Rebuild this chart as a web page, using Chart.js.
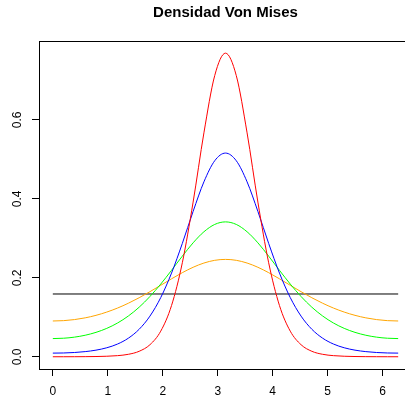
<!DOCTYPE html>
<html>
<head>
<meta charset="utf-8">
<script src="https://cdn.jsdelivr.net/npm/chart.js"></script>
<style>
  html, body { margin: 0; padding: 0; background: #fff; overflow: hidden; }
  canvas { display: block; }
</style>
</head>
<body>
<canvas id="myChart" width="420" height="401"></canvas>
<script>
// angles from 0 to 2*pi, step pi/16
const xs = [0, 0.19635, 0.39270, 0.58905, 0.78540, 0.98175, 1.17810, 1.37445, 1.57080,
  1.76715, 1.96350, 2.15985, 2.35619, 2.55254, 2.74889, 2.94524, 3.14159, 3.33794,
  3.53429, 3.73064, 3.92699, 4.12334, 4.31969, 4.51604, 4.71239, 4.90874, 5.10509,
  5.30144, 5.49779, 5.69414, 5.89049, 6.08684, 6.28319];

const kappa4 = [0.00026, 0.00028, 0.00035, 0.00051, 0.00083, 0.00153, 0.00305, 0.00645, 0.01408,
  0.03073, 0.06508, 0.12996, 0.23825, 0.39184, 0.56705, 0.71199, 0.76886, 0.71199,
  0.56705, 0.39184, 0.23825, 0.12996, 0.06508, 0.03073, 0.01408, 0.00645, 0.00305,
  0.00153, 0.00083, 0.00051, 0.00035, 0.00028, 0.00026];

const kappa2 = [0.00945, 0.00982, 0.01100, 0.01324, 0.01697, 0.02298, 0.03248, 0.04726, 0.06982,
  0.10314, 0.15009, 0.21210, 0.28718, 0.36828, 0.44304, 0.49644, 0.51589, 0.49644,
  0.44304, 0.36828, 0.28718, 0.21210, 0.15009, 0.10314, 0.06982, 0.04726, 0.03248,
  0.02298, 0.01697, 0.01324, 0.01100, 0.00982, 0.00945];

const kappa1 = [0.04625, 0.04714, 0.04990, 0.05473, 0.06198, 0.07212, 0.08574, 0.10343, 0.12571,
  0.15279, 0.18431, 0.21910, 0.25495, 0.28871, 0.31666, 0.33521, 0.34171, 0.33521,
  0.31666, 0.28871, 0.25495, 0.21910, 0.18431, 0.15279, 0.12571, 0.10343, 0.08574,
  0.07212, 0.06198, 0.05473, 0.04990, 0.04714, 0.04625];

const kappa05 = [0.09077, 0.09165, 0.09429, 0.09875, 0.10509, 0.11336, 0.12359, 0.13575, 0.14965,
  0.16499, 0.18121, 0.19758, 0.21313, 0.22680, 0.23752, 0.24438, 0.24674, 0.24438,
  0.23752, 0.22680, 0.21313, 0.19758, 0.18121, 0.16499, 0.14965, 0.13575, 0.12359,
  0.11336, 0.10509, 0.09875, 0.09429, 0.09165, 0.09077];

// kappa = 0 (uniform)
const xsFlat = [0, 6.28319];
const kappa0 = [0.15915, 0.15915];

const xTicks = [0, 1, 2, 3, 4, 5, 6];
const yTicks = [0, 0.2, 0.4, 0.6];
const title = "Densidad Von Mises";

function pts(x, y) {
  return x.map((v, i) => ({ x: v, y: y[i] }));
}

function line(data, color) {
  return {
    data: data,
    borderColor: color,
    borderWidth: 1,
    pointRadius: 0,
    fill: false,
    cubicInterpolationMode: "monotone"
  };
}

// R style box around the plot region + title centred over it
const boxPlugin = {
  id: "box",
  afterDraw(chart) {
    const a = chart.chartArea;
    const ctx = chart.ctx;
    ctx.save();
    ctx.strokeStyle = "#000";
    ctx.lineWidth = 1;
    ctx.strokeRect(Math.round(a.left) + 0.5, Math.round(a.top) + 0.5,
      Math.round(a.right - a.left), Math.round(a.bottom - a.top));
    ctx.fillStyle = "#000";
    ctx.font = "bold 15px 'Liberation Sans', Arial, sans-serif";
    ctx.textAlign = "center";
    ctx.textBaseline = "alphabetic";
    ctx.fillText(title, (a.left + a.right) / 2, 17);
    ctx.restore();
  }
};

Chart.defaults.font.family = "'Liberation Sans', Arial, sans-serif";
Chart.defaults.color = "#000";

new Chart(document.getElementById("myChart").getContext("2d"), {
  type: "line",
  data: {
    datasets: [
      line(pts(xs, kappa4), "#ff0000"),
      line(pts(xs, kappa2), "#0000ff"),
      line(pts(xs, kappa1), "#00ff00"),
      line(pts(xs, kappa05), "#ffa500"),
      line(pts(xsFlat, kappa0), "#000000")
    ]
  },
  options: {
    responsive: false,
    animation: false,
    layout: { padding: { left: 0, right: 8, top: 41, bottom: 0 } },
    plugins: {
      legend: { display: false },
      tooltip: { enabled: false },
      title: { display: false }
    },
    scales: {
      x: {
        type: "linear",
        min: -0.25133,
        max: 6.53451,
        afterBuildTicks: (s) => { s.ticks = xTicks.map((v) => ({ value: v })); },
        afterFit: (s) => { s.height = 32; },
        border: { display: false },
        grid: { drawOnChartArea: false, drawTicks: true, tickLength: 7, color: "#000" },
        ticks: { font: { size: 12 }, padding: 8, maxRotation: 0, callback: (v) => String(v) }
      },
      y: {
        type: "linear",
        min: -0.03075,
        max: 0.79963,
        afterBuildTicks: (s) => { s.ticks = yTicks.map((v) => ({ value: v })); },
        afterFit: (s) => { s.width = 39; },
        border: { display: false },
        grid: { drawOnChartArea: false, drawTicks: true, tickLength: 7, color: "#000" },
        ticks: {
          font: { size: 12 },
          padding: 6,
          minRotation: 90,
          maxRotation: 90,
          crossAlign: "center",
          callback: (v) => v.toFixed(1)
        }
      }
    }
  },
  plugins: [boxPlugin]
});
</script>
</body>
</html>
